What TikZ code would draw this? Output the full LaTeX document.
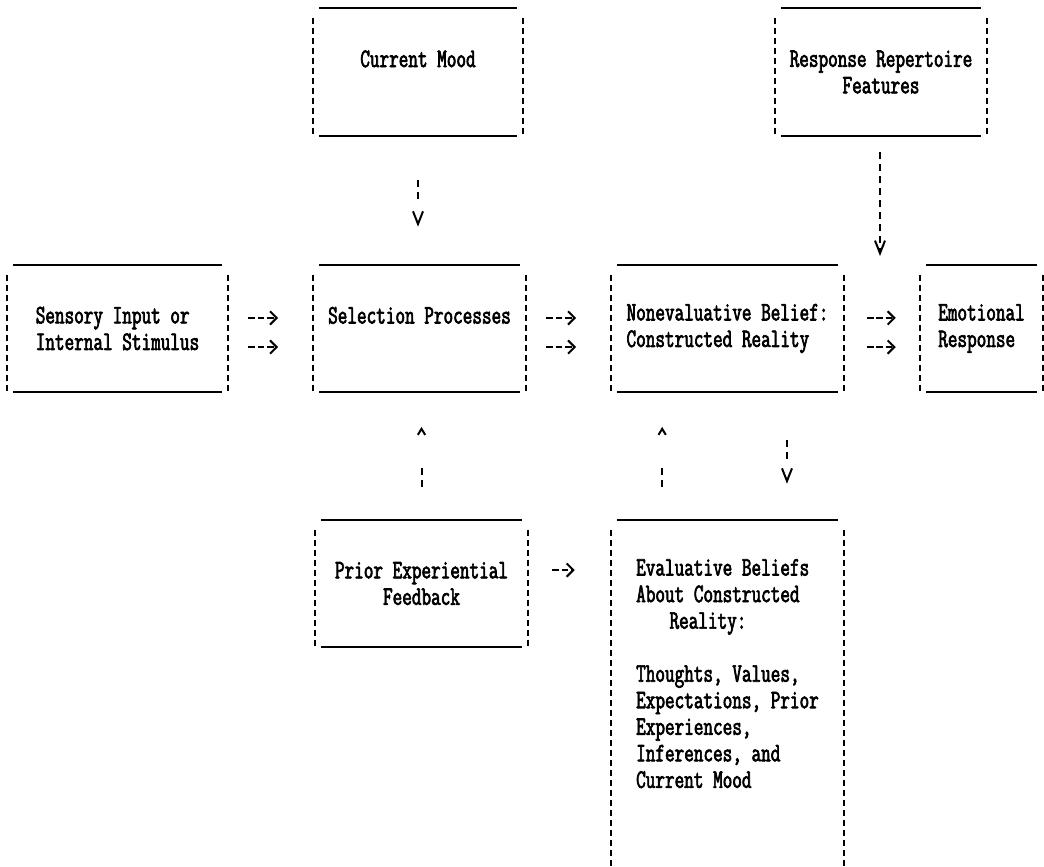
\documentclass[tikz,border=0pt]{standalone}
\usepackage{fontspec}
\newfontfamily\ttyfont[FakeStretch=0.7,FakeBold=2.5]{Latin Modern Mono}
\usetikzlibrary{arrows.meta}

\begin{document}
\begin{tikzpicture}
[x=0.75pt,y=-0.75pt,
  boxDecorate/.style={shape=rectangle,inner sep=0pt,align=center,
    font=\ttyfont\fontsize{20pt}{19.9pt}\selectfont},%
  lineDecorate/.style={-,line width=1.5pt},%
  barDecorate/.style={-,line width=1.5pt,dash pattern=on 4.5pt off 3pt},%
  flowDecorate/.style={-{Straight Barb[length=5pt,width=10pt]},line width=1.5pt,
    dash pattern=on 5pt off 2pt,shorten <=15pt,shorten >=26pt},%
  downDecorate/.style={-{Straight Barb[length=9.5pt,width=7.5pt]},line width=1.5pt,
    dash pattern=on 5.25pt off 3.75pt on 5.25pt off 60pt},%
  upDecorate/.style={-{Straight Barb[length=4.5pt,width=5.5pt]},line width=1.5pt,
    dash pattern=on 5.25pt off 3.75pt on 5.25pt off 60pt}]
\useasboundingbox (0,0) rectangle (1044,866);
\clip (0,0) rectangle (1044,866);
%% boxes
\node (mood) at (418,72) [boxDecorate,minimum width=157.5pt,minimum height=96pt] {Current Mood\\~};
\node (repertoire) at (881,72) [boxDecorate,minimum width=159pt,minimum height=96pt] {Response Repertoire\\Features};
\node (input) at (117.5,328.5) [boxDecorate,align=left,minimum width=165.75pt,minimum height=95.25pt] {Sensory Input or\\Internal Stimulus};
\node (select) at (419.5,328.5) [boxDecorate,minimum width=159.75pt,minimum height=95.25pt] {Selection Processes\\~};
\node (belief) at (727.5,328.5) [boxDecorate,align=left,minimum width=174.75pt,minimum height=95.25pt] {Nonevaluative Belief:\\Constructed Reality};
\node (emotion) at (981.5,328.5) [boxDecorate,align=left,minimum width=92.25pt,minimum height=95.25pt] {Emotional\\Response};
\node (prior) at (421.5,583.5) [boxDecorate,minimum width=159.75pt,minimum height=95.25pt] {Prior Experiential\\Feedback};
\node (evaluative) at (727.5,700) [boxDecorate,align=left,minimum width=174.75pt,minimum height=270pt] {Evaluative Beliefs\\About Constructed\\\hspace*{25pt}Reality:\\~\\Thoughts, Values,\\Expectations, Prior\\Experiences,\\Inferences, and\\Current Mood\\~\\~};
%% free end of the repertoire arrow
\coordinate (modulate) at (880,256);
%% box frames: solid top and bottom, broken sides
\foreach \n in {mood,repertoire,input,select,belief,emotion,prior,evaluative} {
  \draw[lineDecorate] ([xshift=5pt]\n.north west) -- ([xshift=-5pt]\n.north east);
  \draw[lineDecorate] ([xshift=5pt]\n.south west) -- ([xshift=-5pt]\n.south east);
  \draw[barDecorate] ([yshift=-7.5pt]\n.north west) -- (\n.south west);
  \draw[barDecorate] ([yshift=-7.5pt]\n.north east) -- (\n.south east);
}
%% arrows
\draw[flowDecorate] ([yshift=7.9pt]input.east) -- ([yshift=7.9pt]select.west);
\draw[flowDecorate] ([yshift=-13.9pt]input.east) -- ([yshift=-13.9pt]select.west);
\draw[flowDecorate] ([yshift=7.9pt]select.east) -- ([yshift=7.9pt]belief.west);
\draw[flowDecorate] ([yshift=-13.9pt]select.east) -- ([yshift=-13.9pt]belief.west);
\draw[flowDecorate,shorten <=17pt,shorten >=18pt] ([yshift=7.9pt]belief.east) -- ([yshift=7.9pt]emotion.west);
\draw[flowDecorate,shorten <=17pt,shorten >=18pt] ([yshift=-13.9pt]belief.east) -- ([yshift=-13.9pt]emotion.west);
\draw[flowDecorate,shorten <=18pt,shorten >=27pt] ([yshift=10.1pt]prior.east) -- ([yshift=10.1pt]prior.east -| evaluative.west);
\draw[downDecorate,shorten <=33pt,shorten >=28.5pt] (mood.south) -- (mood.south |- select.north);
\draw[downDecorate,dash pattern=on 5.25pt off 3.75pt,shorten <=12pt] (repertoire.south -| modulate) -- (modulate);
\draw[upDecorate,shorten <=24.75pt,shorten >=26pt] (prior.north) -- (prior.north |- select.south);
\draw[upDecorate,shorten <=24.75pt,shorten >=26pt] ([xshift=-49pt]evaluative.north) -- ([xshift=-49pt]belief.south);
\draw[downDecorate,shorten <=36pt,shorten >=27pt] ([xshift=44.6pt]belief.south) -- ([xshift=44.6pt]evaluative.north);
\end{tikzpicture}
\end{document}
